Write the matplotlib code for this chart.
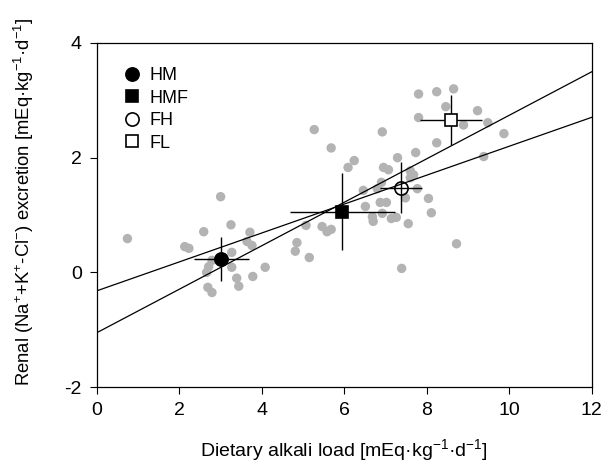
import matplotlib
matplotlib.use('Agg')
import matplotlib.pyplot as plt
import numpy as np

plt.rcParams['font.family'] = ['Liberation Sans', 'DejaVu Sans']
plt.rcParams['mathtext.fontset'] = 'custom'
plt.rcParams['mathtext.rm'] = 'Liberation Sans'
plt.rcParams['mathtext.it'] = 'Liberation Sans'
plt.rcParams['mathtext.default'] = 'regular'
plt.rcParams['axes.unicode_minus'] = False

# individual subjects (grey dots)
alkali_x = [0.74, 2.13, 2.23, 2.59, 3.00, 3.25, 3.71, 3.64, 3.76, 3.27,
            2.79, 2.71, 2.66, 3.27, 4.08, 3.78, 3.39, 3.44, 2.69, 2.79,
            4.85, 4.81, 5.15, 5.07, 5.46, 5.58, 5.68, 5.27, 5.68, 6.09,
            6.24, 6.92, 6.95, 7.07, 6.46, 6.80, 6.90, 6.51, 6.87, 7.02,
            6.68, 6.70, 6.92, 7.80, 8.24, 8.65, 8.46, 7.80, 8.89, 9.23,
            9.48, 9.87, 8.24, 7.73, 7.29, 7.60, 7.68, 7.60, 7.77, 7.48,
            8.04, 8.11, 7.14, 7.26, 7.55, 8.72, 7.39, 9.38]
renal_y = [0.59, 0.45, 0.42, 0.71, 1.32, 0.83, 0.70, 0.54, 0.47, 0.35,
           0.21, 0.10, 0.00, 0.09, 0.09, -0.07, -0.10, -0.24, -0.26, -0.35,
           0.52, 0.37, 0.26, 0.82, 0.80, 0.71, 0.75, 2.49, 2.17, 1.83,
           1.95, 2.45, 1.83, 1.79, 1.43, 1.46, 1.57, 1.15, 1.22, 1.22,
           0.97, 0.89, 1.03, 3.11, 3.15, 3.20, 2.89, 2.70, 2.57, 2.82,
           2.61, 2.42, 2.26, 2.09, 2.00, 1.77, 1.70, 1.65, 1.46, 1.30,
           1.29, 1.04, 0.94, 0.96, 0.85, 0.50, 0.07, 2.02]

# group means with SD
groups = ['HM', 'HMF', 'FH', 'FL']
mean_x = [3.02, 5.95, 7.38, 8.59]
mean_y = [0.23, 1.06, 1.48, 2.66]
sd_x = [0.66, 1.27, 0.51, 0.76]
sd_y = [0.38, 0.67, 0.45, 0.43]
markers = ['o', 's', 'o', 's']
faces = ['black', 'black', 'none', 'white']

# regression lines (intercept, slope)
intercepts = [-1.05, -0.32]
slopes = [0.379, 0.252]

fig = plt.figure(figsize=(6.02, 4.62), dpi=100)
ax = fig.add_axes([0.161, 0.162, 0.822, 0.745])

ax.scatter(alkali_x, renal_y, s=46, color='#b3b3b3', edgecolors='none', zorder=1)

xs = np.array([0, 12])
for b0, b1 in zip(intercepts, slopes):
    ax.plot(xs, b0 + b1 * xs, color='black', lw=0.9, zorder=2)

for i, g in enumerate(groups):
    ax.errorbar(mean_x[i], mean_y[i], xerr=sd_x[i], yerr=sd_y[i], fmt='none',
                ecolor='black', elinewidth=1, capsize=0, zorder=3)
    ax.plot(mean_x[i], mean_y[i], marker=markers[i], ms=9.5 if markers[i] == 'o' else 9,
            mfc=faces[i], mec='black', mew=1.2, ls='none', zorder=4, label=g)

ax.set_xlim(0, 12)
ax.set_ylim(-2, 4)
ax.set_xticks(range(0, 13, 2))
ax.set_yticks([-2, 0, 2, 4])
ax.tick_params(direction='out', length=5, width=0.8, labelsize=14, pad=6)
for s in ax.spines.values():
    s.set_linewidth(0.9)

ax.set_xlabel('Dietary alkali load [mEq·kg$^{-1}$·d$^{-1}$]', fontsize=14, labelpad=13)
ax.set_ylabel('Renal (Na$^{+}$+K$^{+}$-Cl$^{-}$) excretion [mEq·kg$^{-1}$·d$^{-1}$]',
              fontsize=13.3)
ax.yaxis.set_label_coords(-0.123, 0.538)

leg = ax.legend(loc='upper left', bbox_to_anchor=(0.035, 0.95), frameon=False,
                fontsize=13, handletextpad=0.35, labelspacing=0.3, borderaxespad=0,
                handlelength=1.2)
for h in leg.legend_handles:
    if h.get_markerfacecolor() == 'none':
        h.set_markerfacecolor('white')

fig.savefig('out.png', dpi=100)
